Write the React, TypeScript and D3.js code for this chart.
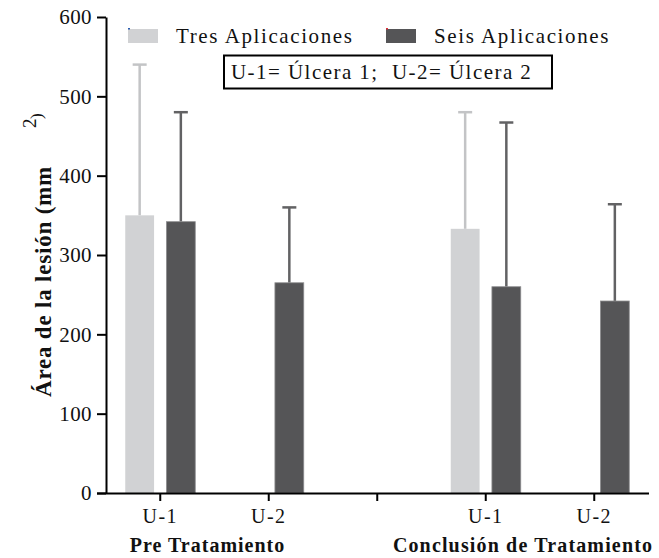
import * as d3 from 'd3';
import React, { useRef, useEffect } from 'react';

const categories = ['pre-U1', 'pre-U2', 'gap', 'con-U1', 'con-U2'];
const tickLabels = ['U-1', 'U-2', '', 'U-1', 'U-2'];
const groupLabels = ['Pre Tratamiento', 'Conclusión de Tratamiento'];
const seriesNames = ['Tres Aplicaciones', 'Seis Aplicaciones'];
const tresMeans = [350, null, null, 333, null];
const tresSD = [190, null, null, 147, null];
const seisMeans = [342, 265, null, 260, 242];
const seisSD = [138, 95, null, 207, 122];
const yTicks = [0, 100, 200, 300, 400, 500, 600];

const fills = ['#d1d2d4', '#555557'];
const errColors = ['#c3c4c6', '#626264'];

export default function App() {
  const ref = useRef(null);

  useEffect(() => {
    const width = 659, height = 558;
    const svg = d3.select(ref.current);
    svg.selectAll('*').remove();
    svg.attr('width', width).attr('height', height);

    const font = "'Liberation Serif', 'Times New Roman', Times, serif";
    const x = d3.scaleBand().domain(categories).range([106, 648.5]);
    const sub = d3.scaleBand().domain(seriesNames).range([-35, 35]).paddingInner(0.3);
    const y = d3.scaleLinear().domain([0, 600]).range([493, 17]);

    // y axis
    const yAxis = svg.append('g')
      .attr('transform', 'translate(106,0)')
      .call(d3.axisLeft(y).tickValues(yTicks).tickSize(9).tickSizeOuter(0).tickPadding(5));
    yAxis.attr('font-family', null).attr('font-size', null);
    yAxis.select('.domain').attr('stroke-width', 2).attr('stroke', '#000');
    yAxis.selectAll('.tick line').attr('stroke-width', 2);
    yAxis.selectAll('.tick text')
      .style('font-family', font).style('font-size', '21px').attr('fill', '#111')
      .attr('letter-spacing', 0.4);

    // bars
    const series = [
      { name: seriesNames[0], means: tresMeans, sd: tresSD },
      { name: seriesNames[1], means: seisMeans, sd: seisSD },
    ];
    series.forEach((s, si) => {
      const rows = categories.map((c, i) => ({ c, m: s.means[i], e: s.sd[i] })).filter(d => d.m != null);
      const g = svg.append('g');
      const bw = sub.bandwidth();
      const cx = d => x(d.c) + x.bandwidth() / 2 + sub(s.name) + bw / 2;
      g.selectAll('line.err').data(rows).join('line')
        .attr('x1', cx).attr('x2', cx)
        .attr('y1', d => y(d.m)).attr('y2', d => y(d.m + d.e))
        .attr('stroke', errColors[si]).attr('stroke-width', 2.5);
      g.selectAll('line.cap').data(rows).join('line')
        .attr('x1', d => cx(d) - 7).attr('x2', d => cx(d) + 7)
        .attr('y1', d => y(d.m + d.e)).attr('y2', d => y(d.m + d.e))
        .attr('stroke', errColors[si]).attr('stroke-width', 2.5);
      g.selectAll('rect').data(rows).join('rect')
        .attr('x', d => cx(d) - bw / 2)
        .attr('width', bw)
        .attr('y', d => y(d.m))
        .attr('height', d => y(0) - y(d.m))
        .attr('fill', fills[si])
        .attr('stroke', si === 1 ? '#8d8d8f' : 'none')
        .attr('stroke-width', si === 1 ? 0.8 : 0);
    });

    // x axis
    const xAxis = svg.append('g')
      .attr('transform', 'translate(0,493)')
      .call(d3.axisBottom(x).tickSize(8).tickSizeOuter(0).tickPadding(8).tickFormat((d, i) => tickLabels[i]));
    xAxis.attr('font-family', null).attr('font-size', null);
    xAxis.select('.domain').attr('d', 'M97,0.5H649').attr('stroke-width', 2).attr('stroke', '#000');
    xAxis.selectAll('.tick line').attr('stroke-width', 2);
    xAxis.selectAll('.tick text')
      .style('font-family', font).style('font-size', '20px').attr('fill', '#111')
      .attr('letter-spacing', 1.5);

    // group labels
    const groupPairs = [['pre-U1', 'pre-U2'], ['con-U1', 'con-U2']];
    svg.append('g').selectAll('text').data(groupPairs).join('text')
      .attr('x', (d, i) => (x(d[0]) + x(d[1]) + x.bandwidth()) / 2 - (i === 0 ? 7 : 17))
      .attr('y', 552)
      .attr('text-anchor', 'middle')
      .style('font-family', font).style('font-size', '20px').style('font-weight', 'bold')
      .attr('letter-spacing', (d, i) => (i === 0 ? 1.0 : 1.15))
      .attr('fill', '#111')
      .text((d, i) => groupLabels[i]);

    // y title
    svg.append('text')
      .attr('transform', 'translate(51,397) rotate(-90)')
      .style('font-family', font).style('font-size', '23px').style('font-weight', 'bold')
      .attr('letter-spacing', 0.8).attr('fill', '#111')
      .text('Área de la lesión (mm');
    svg.append('text')
      .attr('transform', 'translate(36,128) rotate(-90)')
      .style('font-family', font).style('font-size', '19px').attr('fill', '#111')
      .text('2');
    svg.append('text')
      .attr('transform', 'translate(42,119) rotate(-90)')
      .style('font-family', font).style('font-size', '17px').attr('fill', '#111')
      .text(')');

    // legend
    const legendX = [128, 386];
    const legendTextX = [176, 434];
    const lg = svg.append('g');
    seriesNames.forEach((n, i) => {
      lg.append('rect').attr('x', legendX[i]).attr('y', 29).attr('width', 30).attr('height', 14).attr('fill', fills[i]);
      lg.append('rect').attr('x', legendX[i]).attr('y', 28).attr('width', 2).attr('height', 1.5)
        .attr('fill', i === 0 ? '#2a5db0' : '#e0303a');
      lg.append('text').attr('x', legendTextX[i]).attr('y', 43)
        .style('font-family', font).style('font-size', '21px').attr('letter-spacing', 1.6)
        .attr('fill', '#111').text(n);
    });

    // note box
    svg.append('rect').attr('x', 224).attr('y', 55.5).attr('width', 328).attr('height', 33)
      .attr('fill', 'none').attr('stroke', '#000').attr('stroke-width', 2);
    svg.append('text').attr('x', 231).attr('y', 79)
      .style('font-family', font).style('font-size', '21px').attr('letter-spacing', 1.45)
      .attr('fill', '#111')
      .style('white-space', 'pre')
      .text('U-1= Úlcera 1;  U-2= Úlcera 2');
  }, []);

  return (
    <div style={{ position: 'absolute', left: 0, top: 0 }}>
      <svg ref={ref} style={{ display: 'block' }} />
    </div>
  );
}
